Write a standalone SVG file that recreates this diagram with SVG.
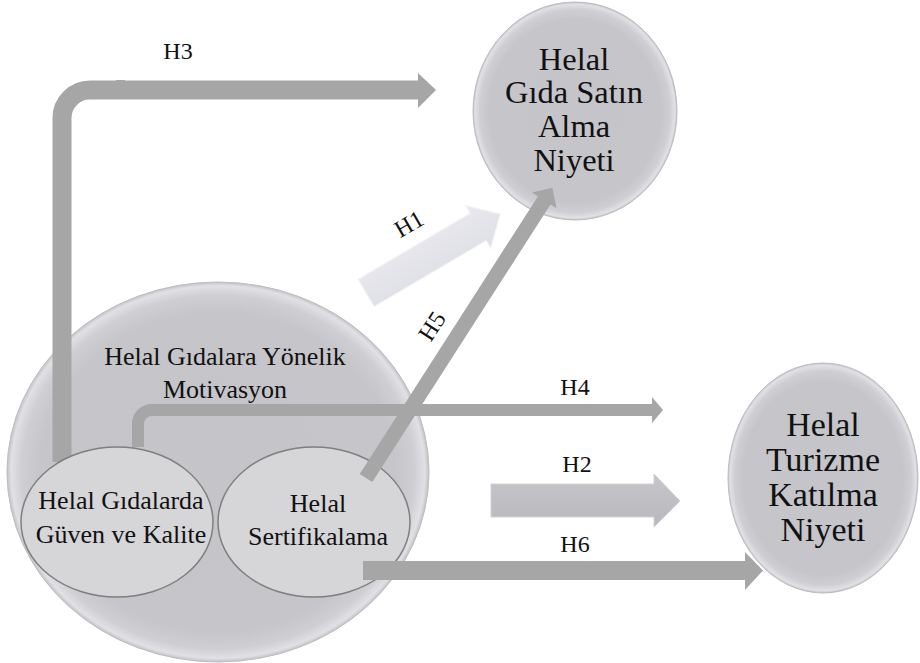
<svg xmlns="http://www.w3.org/2000/svg" width="920" height="663" viewBox="0 0 920 663">
<defs>
<radialGradient id="rim" cx="50%" cy="50%" r="50%">
<stop offset="0%" stop-color="#c4c4c9"/>
<stop offset="84%" stop-color="#c5c5ca"/>
<stop offset="93%" stop-color="#cfcfd3"/>
<stop offset="98%" stop-color="#e1e1e5"/>
<stop offset="100%" stop-color="#c2c2c7"/>
</radialGradient>
<linearGradient id="h2g" x1="0" y1="0" x2="0" y2="1">
<stop offset="0%" stop-color="#c6c5ca"/>
<stop offset="100%" stop-color="#b9b8bd"/>
</linearGradient>
<linearGradient id="h1g" x1="0" y1="0" x2="0" y2="1">
<stop offset="0%" stop-color="#e8e8ee"/>
<stop offset="100%" stop-color="#dfdfe6"/>
</linearGradient>
</defs>
<style>
.txt{font-family:"Liberation Serif","Times New Roman",serif;fill:#111;text-anchor:middle}
.lbl{font-family:"Liberation Serif","Times New Roman",serif;fill:#111;text-anchor:middle;font-size:24px}
.big{fill:url(#rim);stroke:#bcbcc1;stroke-width:1}
.small{fill:#d6d5d8;stroke:#7f7f7f;stroke-width:1.5}
.bar{fill:none;stroke:#a6a6a6}
.head{fill:#a6a6a6}
</style>

<g id="motivasyon">
<ellipse class="big" cx="218" cy="472" rx="211" ry="190"/>
<text class="txt" font-size="26" x="225" y="365">Helal Gıdalara Yönelik</text>
<text class="txt" font-size="26" x="225" y="398">Motivasyon</text>
</g>

<g id="satin-alma">
<ellipse class="big" cx="575" cy="111" rx="102" ry="109"/>
<text class="txt" font-size="32.5" x="574" y="70">Helal</text>
<text class="txt" font-size="32.5" x="574" y="103">Gıda Satın</text>
<text class="txt" font-size="32.5" x="574" y="137">Alma</text>
<text class="txt" font-size="32.5" x="574" y="171">Niyeti</text>
</g>

<g id="turizm">
<ellipse class="big" cx="823" cy="478" rx="95" ry="115"/>
<text class="txt" font-size="34" x="823" y="436">Helal</text>
<text class="txt" font-size="34" x="823" y="471">Turizme</text>
<text class="txt" font-size="34" x="823" y="506">Katılma</text>
<text class="txt" font-size="34" x="823" y="541">Niyeti</text>
</g>

<g id="connectors">
<g id="h3">
<path class="bar" stroke-width="19" d="M62 462 V118 A28 28 0 0 1 90 90 H420"/>
<rect x="116" y="80" width="9" height="3" fill="#a6a6a6"/>
<polygon class="head" points="418,73 436,90 418,108"/>
<text class="lbl" x="178" y="59">H3</text>
</g>
<g id="h4">
<path class="bar" stroke-width="12" d="M138 447 V424 A14 14 0 0 1 152 410 H653"/>
<polygon class="head" points="652,397 663,410 652,423"/>
<text class="lbl" x="575" y="395">H4</text>
</g>
<g id="h1">
<polygon transform="translate(366,293) rotate(-30.5)" fill="url(#h1g)" stroke="#f6f6f9" stroke-width="1.2" points="0,-16 130,-16 130,-25 156,0 130,25 130,16 0,16"/>
<text class="lbl" transform="translate(409,224) rotate(-30)" x="0" y="8">H1</text>
</g>
<g id="h2">
<polygon fill="url(#h2g)" stroke="#d2d2d6" stroke-width="1" points="491,484 654,484 654,474 680,501 654,527 654,517 491,517"/>
<text class="lbl" x="577" y="472">H2</text>
</g>
<g id="h6">
<rect x="363" y="561" width="383" height="19" fill="#a6a6a6"/>
<polygon class="head" points="745,552 763,570.5 745,590"/>
<text class="lbl" x="575" y="552">H6</text>
</g>
</g>

<g id="guven-kalite">
<ellipse class="small" cx="117" cy="522" rx="96" ry="75"/>
<text class="txt" font-size="26" x="121" y="509">Helal Gıdalarda</text>
<text class="txt" font-size="26" x="121" y="543">Güven ve Kalite</text>
</g>

<g id="sertifikalama">
<ellipse class="small" cx="314" cy="522" rx="96" ry="75"/>
<text class="txt" font-size="26" x="318" y="512">Helal</text>
<text class="txt" font-size="26" x="318" y="545">Sertifikalama</text>
</g>

<g id="connectors-front">
<g id="h5">
<g transform="translate(366,478) rotate(-57.3)">
<rect x="0" y="-7.5" width="331" height="15" fill="#a6a6a6"/>
<polygon class="head" points="330,-14.5 345,0 330,14.5"/>
</g>
<text class="lbl" transform="translate(432,326) rotate(-57)" x="0" y="8">H5</text>
</g>
<rect id="h6-start" x="363" y="561" width="60" height="19" fill="#a6a6a6"/>
</g>
</svg>
